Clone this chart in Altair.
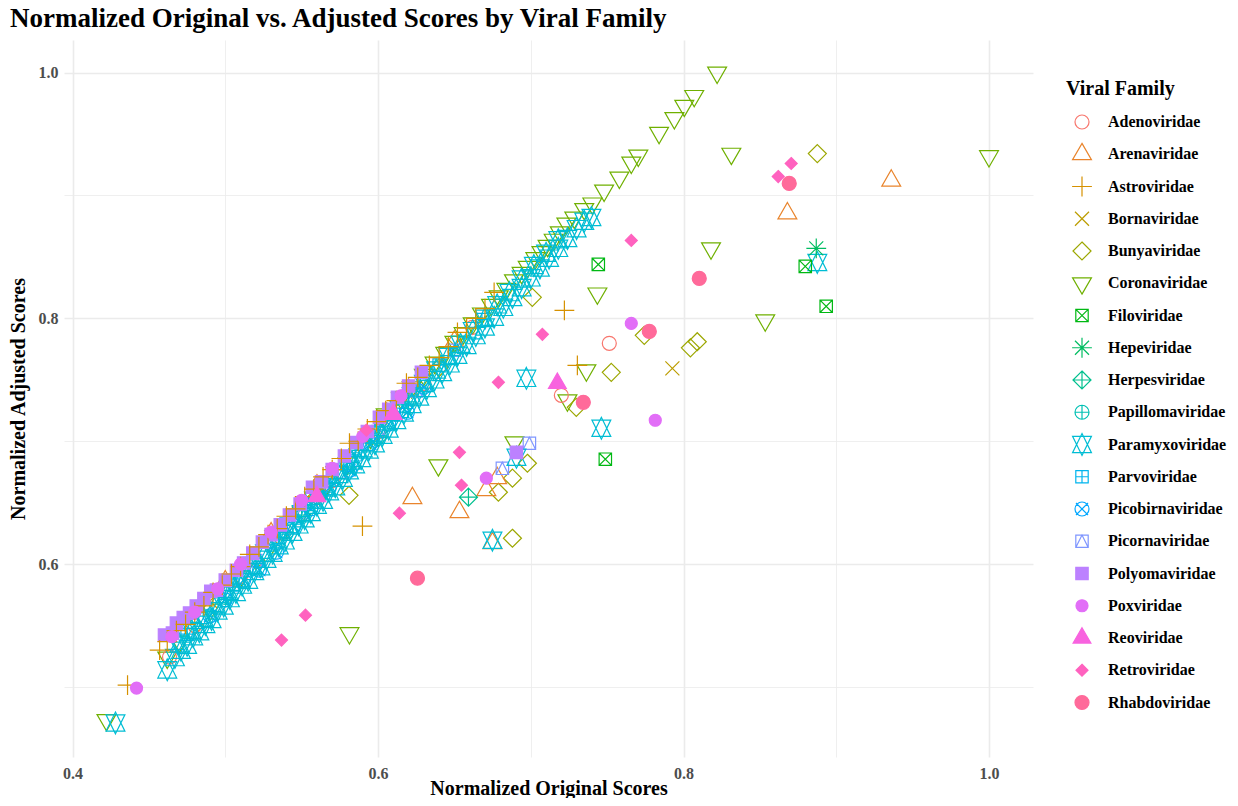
import math
import altair as alt
import pandas as pd

chart_title = "Normalized Original vs. Adjusted Scores by Viral Family"

families = ["Adenoviridae", "Arenaviridae", "Astroviridae", "Bornaviridae", "Bunyaviridae",
            "Coronaviridae", "Filoviridae", "Hepeviridae", "Herpesviridae", "Papillomaviridae",
            "Paramyxoviridae", "Parvoviridae", "Picobirnaviridae", "Picornaviridae",
            "Polyomaviridae", "Poxviridae", "Reoviridae", "Retroviridae", "Rhabdoviridae"]

# (original score, adjusted score) pairs per family
adeno = [(0.4635, 0.5244), (0.48, 0.550), (0.51, 0.590), (0.5374, 0.626), (0.57, 0.668),
         (0.60, 0.708), (0.63, 0.747), (0.6618, 0.7927), (0.72, 0.7374), (0.7514, 0.7797)]
arena = [(0.50, 0.586), (0.53, 0.625), (0.56, 0.664), (0.59, 0.703), (0.62, 0.742), (0.65, 0.781),
         (0.6225, 0.6537), (0.6533, 0.6423), (0.6709, 0.6602), (0.678, 0.670), (0.6749, 0.617),
         (0.868, 0.8854), (0.936, 0.912)]
astro = [(0.436, 0.5016), (0.457, 0.530), (0.462, 0.537), (0.468, 0.546), (0.474, 0.551),
         (0.48, 0.561), (0.486, 0.566), (0.492, 0.577), (0.498, 0.583), (0.504, 0.592),
         (0.51, 0.598), (0.516, 0.608), (0.522, 0.614), (0.528, 0.624), (0.534, 0.629),
         (0.54, 0.639), (0.546, 0.645), (0.552, 0.655), (0.558, 0.661), (0.564, 0.671),
         (0.57, 0.677), (0.576, 0.686), (0.5813, 0.6984), (0.587, 0.700), (0.593, 0.710),
         (0.599, 0.716), (0.605, 0.725), (0.612, 0.733), (0.6186, 0.7472), (0.626, 0.752),
         (0.6336, 0.7618), (0.64, 0.768), (0.646, 0.777), (0.652, 0.7886), (0.658, 0.792),
         (0.664, 0.800), (0.67, 0.808), (0.676, 0.8211), (0.5898, 0.6309), (0.722, 0.8065),
         (0.7305, 0.7618)]
borna = [(0.49, 0.570), (0.53, 0.622), (0.57, 0.674), (0.61, 0.726), (0.65, 0.778), (0.7927, 0.7593)]
bunya = [(0.48, 0.550), (0.52, 0.603), (0.56, 0.655), (0.60, 0.708), (0.64, 0.760), (0.581, 0.656),
         (0.6788, 0.6585), (0.688, 0.670), (0.6978, 0.6821), (0.688, 0.6211), (0.701, 0.8171),
         (0.7298, 0.7276), (0.7527, 0.7561), (0.7743, 0.7862), (0.8045, 0.776), (0.809, 0.781),
         (0.8876, 0.9341)]
corona = [(0.4222, 0.4732), (0.462, 0.524), (0.47, 0.537), (0.49, 0.563), (0.51, 0.590),
          (0.53, 0.616), (0.55, 0.642), (0.565, 0.662), (0.58, 0.682), (0.595, 0.703),
          (0.605, 0.722), (0.615, 0.735), (0.622, 0.744), (0.63, 0.754), (0.637, 0.764),
          (0.644, 0.772), (0.65, 0.781), (0.656, 0.788), (0.662, 0.796), (0.668, 0.804),
          (0.674, 0.811), (0.679, 0.818), (0.684, 0.824), (0.689, 0.831), (0.694, 0.837),
          (0.698, 0.842), (0.703, 0.849), (0.707, 0.854), (0.711, 0.859), (0.715, 0.864),
          (0.719, 0.870), (0.7233, 0.8772), (0.7285, 0.882), (0.735, 0.889), (0.7403, 0.8935),
          (0.748, 0.904), (0.758, 0.9146), (0.7658, 0.9268), (0.7704, 0.9325), (0.784, 0.951),
          (0.794, 0.963), (0.8005, 0.973), (0.807, 0.981), (0.822, 1.0), (0.5813, 0.5439),
          (0.6395, 0.6805), (0.6893, 0.6992), (0.724, 0.7333), (0.7364, 0.7577), (0.7436, 0.8203),
          (0.818, 0.857), (0.8313, 0.934), (0.8535, 0.7984), (1.0, 0.932)]
filo = [(0.7442, 0.8439), (0.7488, 0.6854), (0.8797, 0.8423), (0.8934, 0.8098)]
hepe = [(0.8869, 0.8569)]
herpes = [(0.55, 0.640), (0.60, 0.703), (0.6592, 0.6545)]
papilloma = [(0.50, 0.573), (0.54, 0.626), (0.58, 0.679), (0.62, 0.732)]
paramyxo = [(0.4281, 0.4708), (0.462, 0.514), (0.467, 0.524), (0.471, 0.530), (0.475, 0.534),
            (0.479, 0.541), (0.483, 0.545), (0.487, 0.551), (0.491, 0.555), (0.495, 0.562),
            (0.499, 0.566), (0.503, 0.572), (0.507, 0.577), (0.511, 0.583), (0.515, 0.587),
            (0.519, 0.594), (0.523, 0.598), (0.527, 0.604), (0.531, 0.609), (0.535, 0.615),
            (0.539, 0.619), (0.544, 0.626), (0.548, 0.632), (0.552, 0.637), (0.556, 0.642),
            (0.560, 0.648), (0.564, 0.652), (0.568, 0.659), (0.572, 0.663), (0.577, 0.670),
            (0.581, 0.676), (0.585, 0.681), (0.589, 0.686), (0.594, 0.693), (0.598, 0.698),
            (0.603, 0.705), (0.607, 0.710), (0.612, 0.717), (0.617, 0.723), (0.622, 0.730),
            (0.627, 0.736), (0.632, 0.743), (0.637, 0.750), (0.642, 0.756), (0.647, 0.763),
            (0.652, 0.770), (0.658, 0.778), (0.664, 0.786), (0.670, 0.793), (0.676, 0.801),
            (0.682, 0.809), (0.688, 0.817), (0.694, 0.825), (0.700, 0.833), (0.706, 0.841),
            (0.712, 0.849), (0.718, 0.857), (0.724, 0.865), (0.730, 0.873), (0.735, 0.879),
            (0.7397, 0.8821),
            (0.47, 0.535), (0.478, 0.546), (0.486, 0.556), (0.494, 0.567), (0.502, 0.578),
            (0.51, 0.588), (0.518, 0.599), (0.526, 0.609), (0.534, 0.620), (0.542, 0.631),
            (0.55, 0.641), (0.558, 0.652), (0.566, 0.662), (0.574, 0.673), (0.582, 0.684),
            (0.59, 0.694), (0.598, 0.705), (0.606, 0.716), (0.614, 0.726), (0.622, 0.737),
            (0.63, 0.747), (0.638, 0.758), (0.646, 0.769), (0.654, 0.779), (0.662, 0.790),
            (0.67, 0.800), (0.678, 0.811), (0.686, 0.821), (0.694, 0.832), (0.702, 0.843),
            (0.71, 0.853), (0.718, 0.864),
            (0.6749, 0.6195), (0.6906, 0.687), (0.6971, 0.7512), (0.7462, 0.7106), (0.8876, 0.8455)]
parvo = [(0.475, 0.543), (0.505, 0.583), (0.535, 0.622), (0.56, 0.656), (0.585, 0.689),
         (0.61, 0.722), (0.64, 0.762), (0.668, 0.799)]
picobirna = [(0.49, 0.558), (0.50, 0.571), (0.512, 0.587), (0.5224, 0.5951), (0.5335, 0.6098),
             (0.545, 0.631), (0.556, 0.645), (0.568, 0.662), (0.5813, 0.6764), (0.595, 0.698),
             (0.607, 0.714), (0.6192, 0.7236), (0.63, 0.744)]
picorna = [(0.52, 0.603), (0.55, 0.642), (0.575, 0.675), (0.60, 0.708), (0.625, 0.741),
           (0.65, 0.774), (0.6814, 0.678), (0.6991, 0.6984)]
polyoma = [(0.4602, 0.5423), (0.4654, 0.5439), (0.468, 0.552), (0.4725, 0.5565), (0.4766, 0.5602),
           (0.481, 0.566), (0.486, 0.572), (0.4905, 0.578), (0.4942, 0.5789), (0.50, 0.587),
           (0.5073, 0.5951), (0.512, 0.601), (0.518, 0.609), (0.5243, 0.6179), (0.53, 0.624),
           (0.536, 0.632), (0.542, 0.640), (0.549, 0.649), (0.5571, 0.6626), (0.563, 0.667),
           (0.57, 0.677), (0.578, 0.688), (0.586, 0.699), (0.593, 0.708), (0.6009, 0.7195),
           (0.607, 0.726), (0.6127, 0.7358), (0.62, 0.745), (0.6284, 0.7561), (0.6906, 0.691)]
pox = [(0.465, 0.541), (0.48, 0.561), (0.495, 0.580), (0.51, 0.600), (0.53, 0.626), (0.55, 0.652),
       (0.57, 0.678), (0.59, 0.704), (0.615, 0.737), (0.4419, 0.4992), (0.6709, 0.670),
       (0.7658, 0.7959), (0.7815, 0.7171)]
reo = [(0.56, 0.655), (0.61, 0.722), (0.7174, 0.7472)]
retro = [(0.5368, 0.5382), (0.5525, 0.5585), (0.5924, 0.709), (0.614, 0.6415), (0.6533, 0.691),
         (0.6546, 0.6642), (0.6788, 0.748), (0.7076, 0.787), (0.7658, 0.8634), (0.862, 0.9154),
         (0.8705, 0.926)]
rhabdo = [(0.6258, 0.5886), (0.7344, 0.7317), (0.7776, 0.7894), (0.8103, 0.8325), (0.8692, 0.9098)]

draw_order = [("Coronaviridae", corona), ("Bunyaviridae", bunya), ("Adenoviridae", adeno),
              ("Arenaviridae", arena), ("Bornaviridae", borna), ("Herpesviridae", herpes),
              ("Papillomaviridae", papilloma), ("Parvoviridae", parvo), ("Picornaviridae", picorna),
              ("Picobirnaviridae", picobirna), ("Paramyxoviridae", paramyxo),
              ("Polyomaviridae", polyoma), ("Astroviridae", astro), ("Poxviridae", pox),
              ("Retroviridae", retro), ("Reoviridae", reo), ("Filoviridae", filo),
              ("Hepeviridae", hepe), ("Rhabdoviridae", rhabdo)]

rows = []
for fam, pts in draw_order:
    for ox, ay in pts:
        rows.append({"family": fam, "orig": ox, "adj": ay})
df = pd.DataFrame(rows)


def hcl_hex(h, c=100.0, l=65.0):
    xn, yn, zn = 95.047, 100.0, 108.883
    un = 4 * xn / (xn + 15 * yn + 3 * zn)
    vn = 9 * yn / (xn + 15 * yn + 3 * zn)
    uu = c * math.cos(math.radians(h))
    vv = c * math.sin(math.radians(h))
    Y = yn * ((l + 16) / 116) ** 3
    u = uu / (13 * l) + un
    v = vv / (13 * l) + vn
    X = 9.0 * Y * u / (4 * v)
    Z = -X / 3 - 5 * Y + 3 * Y / v
    X, Y, Z = X / 100, Y / 100, Z / 100
    rgb = [3.240479 * X - 1.537150 * Y - 0.498535 * Z,
           -0.969256 * X + 1.875992 * Y + 0.041556 * Z,
           0.055648 * X - 0.204043 * Y + 1.057311 * Z]
    out = []
    for t in rgb:
        t = 1.055 * t ** (1 / 2.4) - 0.055 if t > 0.0031308 else 12.92 * t
        out.append(int(round(max(0.0, min(1.0, t)) * 255)))
    return "#%02X%02X%02X" % tuple(out)


n = len(families)
colors = [hcl_hex(15 + i * 360.0 / n) for i in range(n)]

circ7 = "M-7,0A7,7,0,1,0,7,0A7,7,0,1,0,-7,0Z"
sq = "M-6.2,-6.2L6.2,-6.2L6.2,6.2L-6.2,6.2Z"
shapes = [
    circ7,                                                        # 1 open circle
    "M0,-10.9L9.43,5.44L-9.43,5.44Z",                             # 2 open triangle
    "M-9.9,0L9.9,0M0,-9.9L0,9.9",                                 # 3 plus
    "M-7,-7L7,7M-7,7L7,-7",                                       # 4 cross
    "M0,-9L9,0L0,9L-9,0Z",                                        # 5 open diamond
    "M0,10.9L9.43,-5.44L-9.43,-5.44Z",                            # 6 down triangle
    sq + "M-6.2,-6.2L6.2,6.2M-6.2,6.2L6.2,-6.2",                  # 7 square cross
    "M-9.9,0L9.9,0M0,-9.9L0,9.9M-7,-7L7,7M-7,7L7,-7",             # 8 asterisk
    "M0,-9L9,0L0,9L-9,0ZM-9,0L9,0M0,-9L0,9",                      # 9 diamond plus
    circ7 + "M-7,0L7,0M0,-7L0,7",                                 # 10 circle plus
    "M0,-10.9L9.43,8.17L-9.43,8.17ZM0,10.9L9.43,-8.17L-9.43,-8.17Z",  # 11 star
    sq + "M-6.2,0L6.2,0M0,-6.2L0,6.2",                            # 12 square plus
    circ7 + "M-6,-6L6,6M-6,6L6,-6",                               # 13 circle cross
    sq + "M-6.2,6.2L0,-6.2L6.2,6.2",                              # 14 square triangle
    sq,                                                           # 15 filled square
    "M-6,0A6,6,0,1,0,6,0A6,6,0,1,0,-6,0Z",                        # 16 filled circle
    "M0,-10.3L8.9,5.1L-8.9,5.1Z",                                 # 17 filled triangle
    "M0,-6L6,0L0,6L-6,0Z",                                        # 18 filled diamond
    circ7,                                                        # 19 big filled circle
]
filled = [False] * 14 + [True] * 5
fills = [col if f else "transparent" for col, f in zip(colors, filled)]

legend = alt.Legend(title="Viral Family", orient="none", legendX=1002, legendY=39)

tick_expr = "round(datum.value*10) % 2 == 1 ? '' : format(datum.value, '.1f')"
grid_w = {"condition": {"test": "round(datum.value*10) % 2 == 1", "value": 0.8}, "value": 1.6}

points = alt.Chart(df).mark_point(size=4, strokeWidth=1.2, opacity=1).encode(
    x=alt.X("orig:Q",
            scale=alt.Scale(domain=[0.3944, 1.0288], nice=False, zero=False),
            axis=alt.Axis(title="Normalized Original Scores",
                          values=[0.4, 0.5, 0.6, 0.7, 0.8, 0.9, 1.0],
                          labelExpr=tick_expr, gridWidth=grid_w,
                          labelPadding=8, titlePadding=-3)),
    y=alt.Y("adj:Q",
            scale=alt.Scale(domain=[0.4431, 1.0265], nice=False, zero=False),
            axis=alt.Axis(title="Normalized Adjusted Scores",
                          values=[0.5, 0.6, 0.7, 0.8, 0.9, 1.0],
                          labelExpr=tick_expr, gridWidth=grid_w,
                          labelPadding=6, titlePadding=10)),
    stroke=alt.Stroke("family:N", scale=alt.Scale(domain=families, range=colors), legend=legend),
    fill=alt.Fill("family:N", scale=alt.Scale(domain=families, range=fills), legend=legend),
    shape=alt.Shape("family:N", scale=alt.Scale(domain=families, range=shapes), legend=legend),
)

title_text = alt.Chart(pd.DataFrame({"t": [chart_title]})).mark_text(
    align="left", baseline="alphabetic", font="Liberation Serif", fontSize=27,
    fontWeight="bold", color="black",
).encode(text="t:N", x=alt.value(-54), y=alt.value(-13))

chart = alt.layer(points, title_text).properties(
    width=969,
    height=717,
    autosize=alt.AutoSizeParams(type="none"),
    padding={"left": 56, "top": 32, "right": 197, "bottom": 41},
).configure_view(stroke=None).configure_axis(
    domain=False, ticks=False, gridColor="#EBEBEB",
    labelFont="Liberation Serif", labelFontSize=16, labelFontWeight="bold", labelColor="#4D4D4D",
    labelFlush=False, labelOverlap=False,
    titleFont="Liberation Serif", titleFontSize=20, titleFontWeight="bold", titleColor="black",
).configure_legend(
    titleFont="Liberation Serif", titleFontSize=20, titleFontWeight="bold", titleColor="black",
    labelFont="Liberation Serif", labelFontSize=16, labelFontWeight="bold", labelColor="black",
    symbolSize=4, symbolStrokeWidth=1.2, rowPadding=4.25, titlePadding=15, gridAlign="all",
    symbolOffset=8, labelOffset=18, padding=0, titleBaseline="top",
)

chart.save("out.html", embed_options={"renderer": "svg", "actions": False})
